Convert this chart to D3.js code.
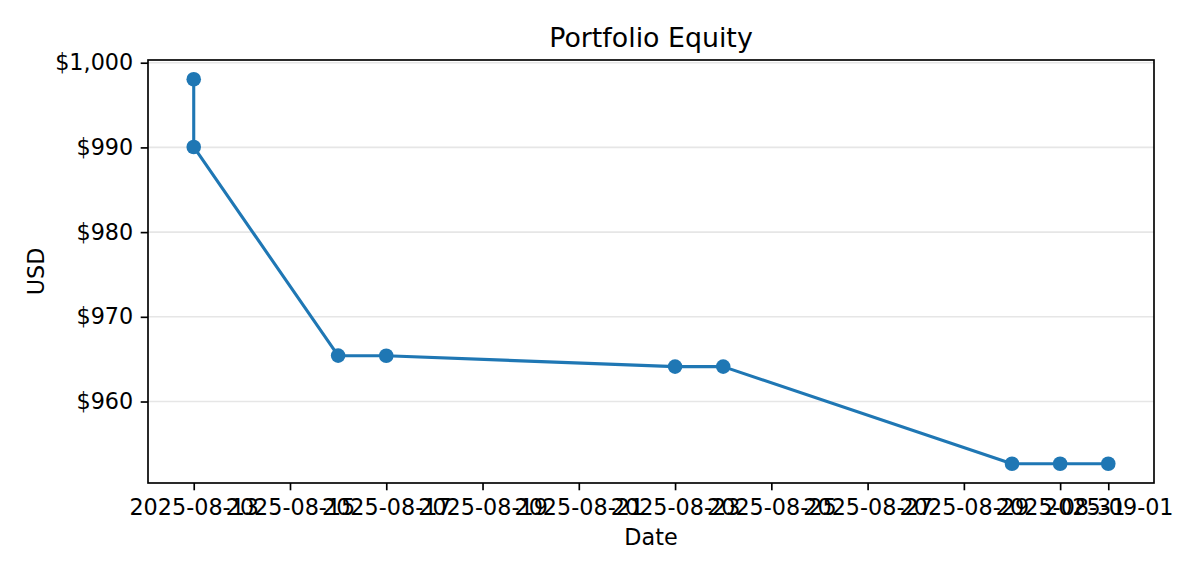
<!DOCTYPE html>
<html><head><meta charset="utf-8">
<script src="https://cdn.jsdelivr.net/npm/d3@7"></script>
<style>body{margin:0;background:#fff}svg{display:block}text{font-family:"DejaVu Sans",sans-serif;fill:#000}</style>
</head><body>
<script>
const dates = ["2025-08-13","2025-08-13","2025-08-16","2025-08-17","2025-08-23","2025-08-24","2025-08-30","2025-08-31","2025-09-01"];
const equity = [998.05, 990.05, 965.42, 965.40, 964.12, 964.12, 952.65, 952.65, 952.65];
const xTickDates = ["2025-08-13","2025-08-15","2025-08-17","2025-08-19","2025-08-21","2025-08-23","2025-08-25","2025-08-27","2025-08-29","2025-08-31","2025-09-01"];
const yTicks = [960, 970, 980, 990, 1000];
const title = "Portfolio Equity", xLabel = "Date", yLabel = "USD";

const W = 1200, H = 576;
const m = {left:148, right:1154, top:60, bottom:483};
const parse = d3.utcParse("%Y-%m-%d");
const pts = dates.map((d,i)=>({t:parse(d), v:equity[i]}));
const t0 = d3.min(pts,d=>d.t), t1 = d3.max(pts,d=>d.t);
const span = t1 - t0;
const x = d3.scaleUtc().domain([new Date(+t0 - span*0.05), new Date(+t1 + span*0.05)]).range([m.left, m.right]);
const vmin = d3.min(equity), vmax = d3.max(equity), vr = vmax - vmin;
const y = d3.scaleLinear().domain([vmin - vr*0.05, vmax + vr*0.05]).range([m.bottom, m.top]);

const svg = d3.select("body").append("svg").attr("width",W).attr("height",H);
const FS = 22.3;

// grid
svg.append("g").selectAll("line").data(yTicks).join("line")
  .attr("x1",m.left).attr("x2",m.right).attr("y1",d=>y(d)).attr("y2",d=>y(d))
  .attr("stroke","#e6e6e6").attr("stroke-width",1.6);

// line
svg.append("path").datum(pts)
  .attr("d", d3.line().x(d=>x(d.t)).y(d=>y(d.v)))
  .attr("fill","none").attr("stroke","#1f77b4").attr("stroke-width",3.1).attr("stroke-linejoin","round").attr("stroke-linecap","round");
svg.append("g").selectAll("circle").data(pts).join("circle")
  .attr("cx",d=>x(d.t)).attr("cy",d=>y(d.v)).attr("r",7.3).attr("fill","#1f77b4");

// axes
const fmt = d3.format("$,.0f");
const xAxis = d3.axisBottom(x).tickValues(xTickDates.map(parse)).tickFormat(d3.utcFormat("%Y-%m-%d")).tickSize(7.3).tickPadding(8.5);
const yAxis = d3.axisLeft(y).tickValues(yTicks).tickFormat(fmt).tickSize(7.3).tickPadding(7.5);
const gx = svg.append("g").attr("transform",`translate(0,${m.bottom})`).call(xAxis);
const gy = svg.append("g").attr("transform",`translate(${m.left},0)`).call(yAxis);
[gx,gy].forEach(g=>{
  g.select(".domain").remove();
  g.selectAll(".tick line").attr("stroke","#000").attr("stroke-width",1.67);
  g.selectAll(".tick text").attr("font-size",FS).attr("font-family","DejaVu Sans").attr("fill","#000");
});

// frame
svg.append("rect").attr("x",m.left).attr("y",m.top).attr("width",m.right-m.left).attr("height",m.bottom-m.top)
  .attr("fill","none").attr("stroke","#000").attr("stroke-width",1.67);

svg.append("text").attr("x",(m.left+m.right)/2).attr("y",47).attr("text-anchor","middle").attr("font-size",26.8).text(title);
svg.append("text").attr("x",(m.left+m.right)/2).attr("y",545).attr("text-anchor","middle").attr("font-size",FS).text(xLabel);
svg.append("text").attr("transform",`translate(44,${(m.top+m.bottom)/2}) rotate(-90)`).attr("text-anchor","middle").attr("font-size",FS).text(yLabel);
</script>
</body></html>
